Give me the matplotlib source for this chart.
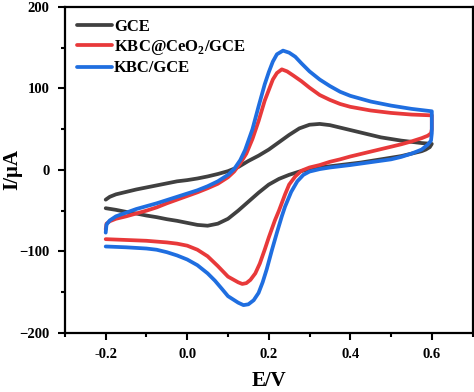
import numpy as np
import matplotlib
matplotlib.use("Agg")
import matplotlib.pyplot as plt
from matplotlib.ticker import MultipleLocator, FormatStrFormatter

plt.rcParams['font.family'] = ['Liberation Serif', 'DejaVu Serif']
plt.rcParams['font.weight'] = 'bold'
plt.rcParams['mathtext.fontset'] = 'custom'
plt.rcParams['mathtext.rm'] = 'Liberation Serif:bold'
plt.rcParams['mathtext.bf'] = 'Liberation Serif:bold'

# ---- data (E in V, I in uA) ----
# GCE
gce_fwd_E = [-0.2, -0.19, -0.175, -0.15, -0.125, -0.1, -0.075, -0.05, -0.025, 0.0, 0.025, 0.05,
             0.075, 0.1, 0.125, 0.15, 0.175, 0.2, 0.225, 0.25, 0.275, 0.3, 0.325, 0.35, 0.375,
             0.4, 0.425, 0.45, 0.475, 0.5, 0.525, 0.55, 0.575, 0.6]
gce_fwd_I = [-36.5, -33, -30, -27, -24, -21.5, -19, -16.5, -14, -12.5, -10.5, -8,
             -5, -1.5, 3.5, 11, 17.5, 25, 34, 43, 51, 55.5, 56.5, 55, 52,
             49, 46, 43, 40, 38, 36, 34.5, 33, 32]
gce_rev_E = [0.6, 0.595, 0.585, 0.575, 0.55, 0.525, 0.5, 0.475, 0.45, 0.425, 0.4, 0.375, 0.35,
             0.325, 0.3, 0.275, 0.25, 0.225, 0.2, 0.175, 0.15, 0.125, 0.1, 0.075, 0.05, 0.025,
             0.0, -0.025, -0.05, -0.075, -0.1, -0.125, -0.15, -0.175, -0.2]
gce_rev_I = [32, 28, 25, 23, 20, 17, 15, 13, 11, 9, 7.5, 6, 4.5,
             3, 1, -2, -6, -11, -18, -28, -39, -50, -60, -66, -68.5, -67.5,
             -65, -62.5, -60.5, -58, -56, -53.5, -51.5, -49, -47]

# KBC@CeO2/GCE
red_fwd_E = [-0.2, -0.198, -0.19, -0.175, -0.15, -0.125, -0.1, -0.075, -0.05, -0.025, 0.0, 0.025,
             0.05, 0.075, 0.1, 0.115, 0.13, 0.145, 0.16, 0.175, 0.19, 0.2, 0.21, 0.22, 0.232,
             0.245, 0.26, 0.28, 0.3, 0.325, 0.35, 0.375, 0.4, 0.45, 0.5, 0.55, 0.6]
red_fwd_I = [-73, -66, -63, -60, -57, -53.5, -50, -46, -41, -36.5, -32, -27.5,
             -22.5, -17, -9, -2, 8, 20, 38, 60, 85, 98, 111, 119, 123.5,
             121, 116, 109, 101, 92, 86, 81, 77.5, 73, 70, 68, 67]
red_rev_E = [0.6, 0.6, 0.598, 0.59, 0.575, 0.55, 0.525, 0.5, 0.475, 0.45, 0.425, 0.4, 0.375,
             0.35, 0.325, 0.3, 0.28, 0.265, 0.25, 0.24, 0.225, 0.215, 0.2, 0.19, 0.178, 0.167,
             0.155, 0.145, 0.135, 0.125, 0.1, 0.075, 0.05, 0.025, 0.0, -0.025, -0.05, -0.075,
             -0.1, -0.15, -0.2]
red_rev_I = [67, 50, 45, 42, 39, 35, 31.5, 28.5, 25.5, 22.5, 19.5, 16.5, 13,
             10, 6, 3, -1, -8, -18, -30, -50, -62, -83, -98, -115, -127,
             -135, -139, -140, -138, -131, -118, -106, -98, -93, -90.5, -89, -88,
             -87, -86, -85]

# KBC/GCE
blue_fwd_E = [-0.2, -0.198, -0.19, -0.175, -0.15, -0.125, -0.1, -0.075, -0.05, -0.025, 0.0, 0.025,
              0.05, 0.075, 0.1, 0.115, 0.13, 0.142, 0.16, 0.175, 0.19, 0.2, 0.21, 0.22, 0.235,
              0.25, 0.265, 0.28, 0.3, 0.325, 0.35, 0.375, 0.4, 0.45, 0.5, 0.55, 0.6]
blue_fwd_I = [-77, -67, -62, -57, -52.5, -48, -44.5, -41, -37, -33, -29, -25,
              -20, -14, -6, 1, 12, 24.5, 50, 78, 105, 120, 133, 142, 146.5,
              144, 139, 131, 121, 111, 103, 96, 91, 84, 79, 75, 72]
blue_rev_E = [0.6, 0.6, 0.598, 0.59, 0.575, 0.55, 0.525, 0.5, 0.45, 0.4, 0.35, 0.325, 0.3,
              0.285, 0.27, 0.255, 0.24, 0.232, 0.22, 0.208, 0.195, 0.185, 0.175, 0.163, 0.15,
              0.138, 0.125, 0.1, 0.085, 0.068, 0.05, 0.025, 0.0, -0.025, -0.05, -0.075,
              -0.1, -0.15, -0.2]
blue_rev_I = [72, 45, 36, 31, 25, 20, 16, 13, 9.5, 6, 3, 1, -2,
              -6, -14, -27, -45, -57, -77, -98, -122, -138, -151, -160, -165,
              -166, -163, -155, -146, -136, -127, -117, -110, -105, -101, -98,
              -96.5, -95, -94]

labels = ['GCE', r'KBC@CeO$_\mathbf{2}$/GCE', 'KBC/GCE']
colors = ['#404040', '#e8393a', '#1f6ee0']

fig = plt.figure(figsize=(4.74, 3.92), dpi=100)
ax = fig.add_axes([0.137, 0.151, 0.86, 0.831])

curves = [(gce_fwd_E + gce_rev_E, gce_fwd_I + gce_rev_I),
          (red_fwd_E + red_rev_E, red_fwd_I + red_rev_I),
          (blue_fwd_E + blue_rev_E, blue_fwd_I + blue_rev_I)]
for (E, I), lab, c in zip(curves, labels, colors):
    ax.plot(E, I, color=c, lw=2.7, label=lab, solid_joinstyle='round', solid_capstyle='round')

ax.set_xlim(-0.3, 0.7)
ax.set_ylim(-200, 200)
ax.set_xticks([-0.2, 0.0, 0.2, 0.4, 0.6])
ax.set_yticks([-200, -100, 0, 100, 200])
ax.xaxis.set_minor_locator(MultipleLocator(0.1))
ax.yaxis.set_minor_locator(MultipleLocator(50))
ax.xaxis.set_major_formatter(FormatStrFormatter('%.1f'))
ax.tick_params(which='major', direction='out', length=5, width=1.5, labelsize=10.5, pad=6)
ax.tick_params(which='minor', direction='out', length=3, width=1.5)
for s in ax.spines.values():
    s.set_linewidth(1.6)
for t in ax.get_xticklabels() + ax.get_yticklabels():
    t.set_fontweight('bold')

ax.set_xlabel('E/V', fontsize=15, fontweight='bold')
ax.set_ylabel('I/μA', fontsize=15, fontweight='bold')
ax.xaxis.set_label_coords(0.5, -0.118)
ax.yaxis.set_label_coords(-0.105, 0.5)

ax.legend(loc='upper left', frameon=False, handlelength=2.1,
          handletextpad=0.15, labelspacing=0.2, borderaxespad=0.3,
          prop={'weight': 'bold', 'size': 12})

fig.savefig('out.png', dpi=100)
